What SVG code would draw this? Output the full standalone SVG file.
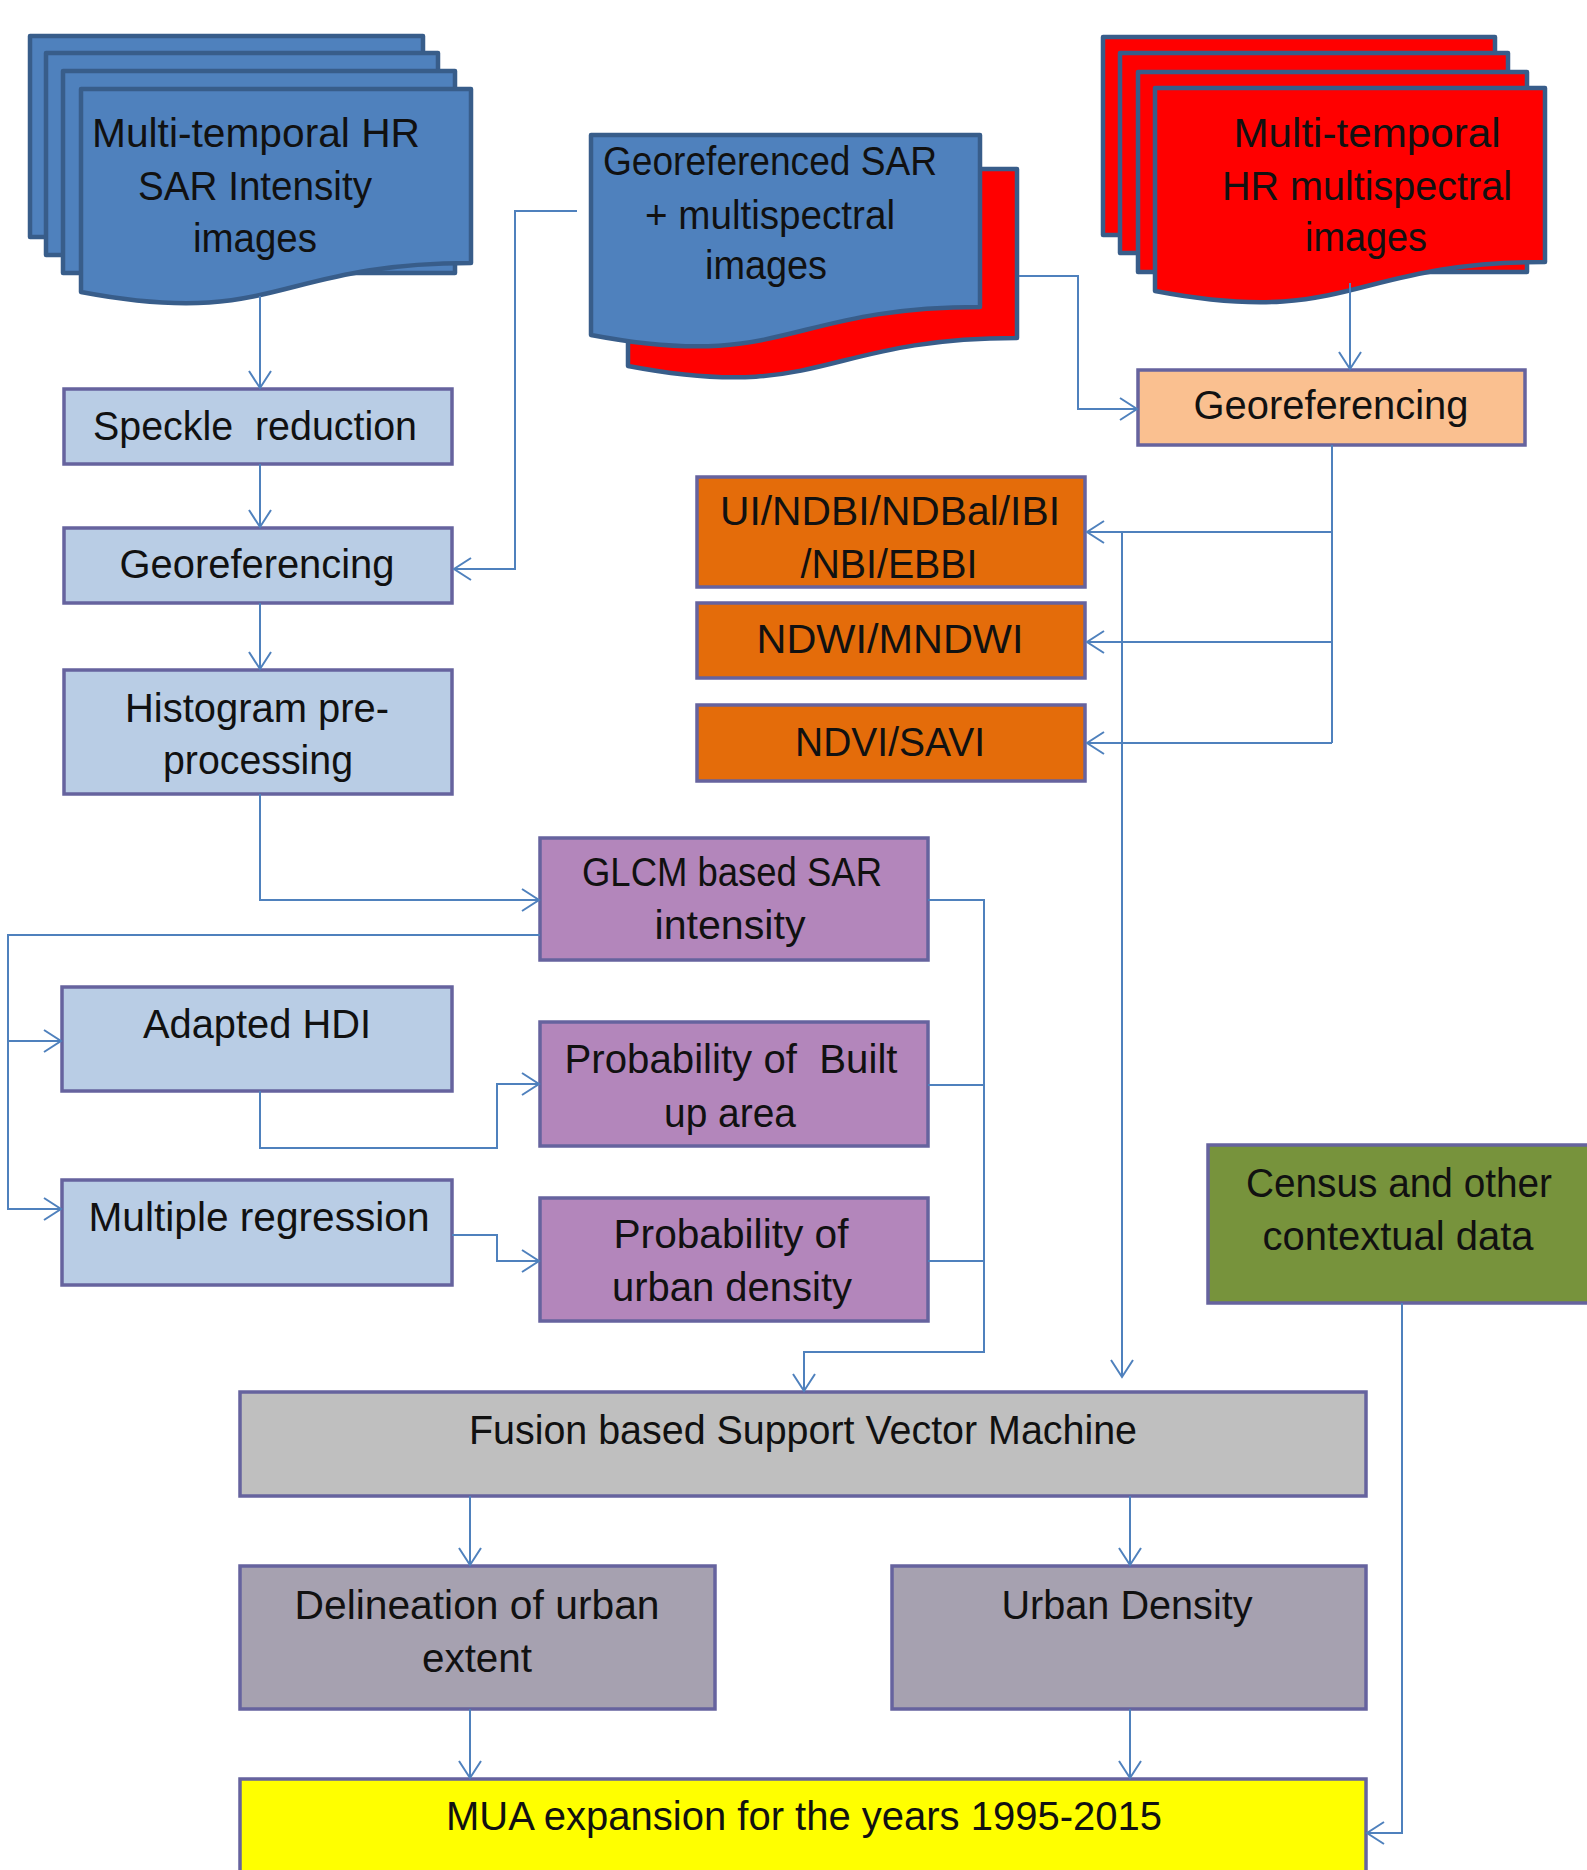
<svg xmlns="http://www.w3.org/2000/svg" width="1587" height="1870" viewBox="0 0 1587 1870">
<defs>
<style>
.doc{stroke:#385D8A;stroke-width:4.5;stroke-linejoin:round}
.blue{fill:#4F81BD}
.red{fill:#FF0000}
.box{stroke:#66639E;stroke-width:3.5}
.lb{fill:#B9CDE5}
.pu{fill:#B386BB}
.or{fill:#E46C0A}
.lo{fill:#FAC090}
.gr{fill:#77933C}
.gy{fill:#BFBFBF}
.gp{fill:#A6A1B0}
.ye{fill:#FFFF00}
text{font-family:"Liberation Sans",Arial,sans-serif;font-size:40px;fill:#111;text-anchor:middle;white-space:pre}
.cn{fill:none;stroke:#4F81BD;stroke-width:2}
</style>
<marker id="arr" viewBox="-20 -14 22 28" refX="0" refY="0" markerWidth="22" markerHeight="28" markerUnits="userSpaceOnUse" orient="auto">
<path d="M-17,-11 L0,0 L-17,11" fill="none" stroke="#4F81BD" stroke-width="2"/>
</marker>
</defs>

<g id="sar-images">
<rect class="doc blue" x="30" y="36" width="393" height="201"/>
<rect class="doc blue" x="46" y="53" width="392" height="202"/>
<rect class="doc blue" x="63" y="71" width="392" height="202"/>
<path class="doc blue" d="M81,89 H471 V263 C276,263 276,329 81,292 Z"/>
<text x="256" y="147" textLength="328" lengthAdjust="spacingAndGlyphs">Multi-temporal HR</text>
<text x="255" y="200" textLength="234" lengthAdjust="spacingAndGlyphs">SAR Intensity</text>
<text x="255" y="252" textLength="124" lengthAdjust="spacingAndGlyphs">images</text>
</g>

<g id="georef-sar-ms">
<path class="doc red" d="M628,169 H1017 V338 C822.5,338 822.5,403 628,366 Z"/>
<path class="doc blue" d="M591,135 H980 V307 C785.5,307 785.5,372 591,335 Z"/>
<text x="770" y="175" textLength="334" lengthAdjust="spacingAndGlyphs">Georeferenced SAR</text>
<text x="770" y="229" textLength="250" lengthAdjust="spacingAndGlyphs">+ multispectral</text>
<text x="766" y="279" textLength="122" lengthAdjust="spacingAndGlyphs">images</text>
</g>

<g id="ms-images">
<rect class="doc red" x="1103" y="37" width="392" height="198"/>
<rect class="doc red" x="1120" y="53" width="388" height="200"/>
<rect class="doc red" x="1138" y="72" width="389" height="200"/>
<path class="doc red" d="M1155,88 H1545 V262 C1350,262 1350,328 1155,291 Z"/>
<text x="1367" y="147" textLength="267" lengthAdjust="spacingAndGlyphs">Multi-temporal</text>
<text x="1367" y="200" textLength="290" lengthAdjust="spacingAndGlyphs">HR multispectral</text>
<text x="1366" y="251" textLength="122" lengthAdjust="spacingAndGlyphs">images</text>
</g>

<g id="speckle">
<rect class="box lb" x="64" y="389" width="388" height="75"/>
<text x="255" y="440" textLength="324" lengthAdjust="spacingAndGlyphs">Speckle  reduction</text>
</g>

<g id="georef-left">
<rect class="box lb" x="64" y="528" width="388" height="75"/>
<text x="257" y="578" textLength="275" lengthAdjust="spacingAndGlyphs">Georeferencing</text>
</g>

<g id="histogram">
<rect class="box lb" x="64" y="670" width="388" height="124"/>
<text x="257" y="722" textLength="264" lengthAdjust="spacingAndGlyphs">Histogram pre-</text>
<text x="258" y="774" textLength="190" lengthAdjust="spacingAndGlyphs">processing</text>
</g>

<g id="georef-right">
<rect class="box lo" x="1138" y="370" width="387" height="75"/>
<text x="1331" y="419" textLength="275" lengthAdjust="spacingAndGlyphs">Georeferencing</text>
</g>

<g id="ui-ndbi">
<rect class="box or" x="697" y="477" width="388" height="110"/>
<text x="890" y="525" textLength="340" lengthAdjust="spacingAndGlyphs">UI/NDBI/NDBal/IBI</text>
<text x="889" y="578" textLength="177" lengthAdjust="spacingAndGlyphs">/NBI/EBBI</text>
</g>

<g id="ndwi">
<rect class="box or" x="697" y="603" width="388" height="75"/>
<text x="890" y="653" textLength="267" lengthAdjust="spacingAndGlyphs">NDWI/MNDWI</text>
</g>

<g id="ndvi">
<rect class="box or" x="697" y="705" width="388" height="76"/>
<text x="890" y="756" textLength="190" lengthAdjust="spacingAndGlyphs">NDVI/SAVI</text>
</g>

<g id="glcm">
<rect class="box pu" x="540" y="838" width="388" height="122"/>
<text x="732" y="886" textLength="300" lengthAdjust="spacingAndGlyphs">GLCM based SAR</text>
<text x="730" y="939" textLength="151" lengthAdjust="spacingAndGlyphs">intensity</text>
</g>

<g id="hdi">
<rect class="box lb" x="62" y="987" width="390" height="104"/>
<text x="257" y="1038" textLength="228" lengthAdjust="spacingAndGlyphs">Adapted HDI</text>
</g>

<g id="builtup">
<rect class="box pu" x="540" y="1022" width="388" height="124"/>
<text x="731" y="1073" textLength="333" lengthAdjust="spacingAndGlyphs">Probability of  Built</text>
<text x="730" y="1127" textLength="132" lengthAdjust="spacingAndGlyphs">up area</text>
</g>

<g id="regression">
<rect class="box lb" x="62" y="1180" width="390" height="105"/>
<text x="259" y="1231" textLength="341" lengthAdjust="spacingAndGlyphs">Multiple regression</text>
</g>

<g id="urbandensity-prob">
<rect class="box pu" x="540" y="1198" width="388" height="123"/>
<text x="731" y="1248" textLength="235" lengthAdjust="spacingAndGlyphs">Probability of</text>
<text x="732" y="1301" textLength="240" lengthAdjust="spacingAndGlyphs">urban density</text>
</g>

<g id="census">
<rect class="box gr" x="1208" y="1145" width="400" height="158"/>
<text x="1399" y="1197" textLength="306" lengthAdjust="spacingAndGlyphs">Census and other</text>
<text x="1398" y="1250" textLength="271" lengthAdjust="spacingAndGlyphs">contextual data</text>
</g>

<g id="fusion">
<rect class="box gy" x="240" y="1392" width="1126" height="104"/>
<text x="803" y="1444" textLength="668" lengthAdjust="spacingAndGlyphs">Fusion based Support Vector Machine</text>
</g>

<g id="delineation">
<rect class="box gp" x="240" y="1566" width="475" height="143"/>
<text x="477" y="1619" textLength="365" lengthAdjust="spacingAndGlyphs">Delineation of urban</text>
<text x="477" y="1672" textLength="110" lengthAdjust="spacingAndGlyphs">extent</text>
</g>

<g id="urban-density">
<rect class="box gp" x="892" y="1566" width="474" height="143"/>
<text x="1127" y="1619" textLength="251" lengthAdjust="spacingAndGlyphs">Urban Density</text>
</g>

<g id="mua">
<rect class="box ye" x="240" y="1779" width="1126" height="120"/>
<text x="804" y="1830" textLength="716" lengthAdjust="spacingAndGlyphs">MUA expansion for the years 1995-2015</text>
</g>

<g id="connectors">
<path class="cn" d="M260,296 V388" marker-end="url(#arr)"/>
<path class="cn" d="M260,464 V527" marker-end="url(#arr)"/>
<path class="cn" d="M260,603 V669" marker-end="url(#arr)"/>
<path class="cn" d="M260,794 V900 H539" marker-end="url(#arr)"/>
<path class="cn" d="M577,211 H515 V569 H454" marker-end="url(#arr)"/>
<path class="cn" d="M1019,276 H1078 V409 H1137" marker-end="url(#arr)"/>
<path class="cn" d="M1350,283 V369" marker-end="url(#arr)"/>
<path class="cn" d="M1332,445 V743"/>
<path class="cn" d="M1332,532 H1087" marker-end="url(#arr)"/>
<path class="cn" d="M1332,642 H1087" marker-end="url(#arr)"/>
<path class="cn" d="M1332,743 H1087" marker-end="url(#arr)"/>
<path class="cn" d="M1122,532 V1377" marker-end="url(#arr)"/>
<path class="cn" d="M928,900 H984 V1352 H804 V1391" marker-end="url(#arr)"/>
<path class="cn" d="M928,1085 H984"/>
<path class="cn" d="M928,1261 H984"/>
<path class="cn" d="M540,935 H8 V1209 H61" marker-end="url(#arr)"/>
<path class="cn" d="M8,1041 H61" marker-end="url(#arr)"/>
<path class="cn" d="M260,1091 V1148 H497 V1084 H539" marker-end="url(#arr)"/>
<path class="cn" d="M452,1235 H497 V1261 H539" marker-end="url(#arr)"/>
<path class="cn" d="M470,1496 V1565" marker-end="url(#arr)"/>
<path class="cn" d="M1130,1496 V1565" marker-end="url(#arr)"/>
<path class="cn" d="M470,1709 V1778" marker-end="url(#arr)"/>
<path class="cn" d="M1130,1709 V1778" marker-end="url(#arr)"/>
<path class="cn" d="M1402,1303 V1833 H1367" marker-end="url(#arr)"/>
</g>
</svg>
